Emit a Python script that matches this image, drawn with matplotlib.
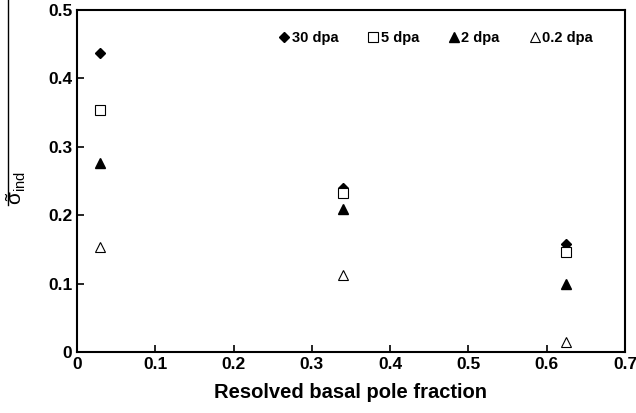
import matplotlib
matplotlib.use("Agg")
import matplotlib.pyplot as plt
from matplotlib.lines import Line2D

plt.rcParams['font.family'] = ['Liberation Sans', 'DejaVu Sans']
plt.rcParams['mathtext.fontset'] = 'custom'
plt.rcParams['mathtext.rm'] = 'Liberation Sans'
plt.rcParams['mathtext.it'] = 'Liberation Sans'

# data
fraction = [0.03, 0.34, 0.625]
dpa30 = [0.437, 0.240, 0.158]
dpa5 = [0.354, 0.232, 0.146]
dpa2 = [0.277, 0.209, 0.099]
dpa02 = [0.154, 0.112, 0.015]
labels = ["30 dpa", "5 dpa", "2 dpa", "0.2 dpa"]

fig = plt.figure(figsize=(6.36, 4.13), dpi=100)
ax = fig.add_axes([77/636, 1-352/413, 548/636, 342/413])

ax.plot(fraction, dpa30, ls='none', marker='D', ms=5, color='black', label=labels[0])
ax.plot(fraction, dpa5, ls='none', marker='s', ms=6.5, mfc='white', mec='black', mew=0.8, label=labels[1])
ax.plot(fraction, dpa2, ls='none', marker='^', ms=7, color='black', label=labels[2])
ax.plot(fraction, dpa02, ls='none', marker='^', ms=7, mfc='white', mec='black', mew=0.8, label=labels[3])

ax.set_xlim(0, 0.7)
ax.set_ylim(0, 0.5)
ax.set_xticks([0, 0.1, 0.2, 0.3, 0.4, 0.5, 0.6, 0.7])
ax.set_xticklabels(["0", "0.1", "0.2", "0.3", "0.4", "0.5", "0.6", "0.7"])
ax.set_yticks([0, 0.1, 0.2, 0.3, 0.4, 0.5])
ax.set_yticklabels(["0", "0.1", "0.2", "0.3", "0.4", "0.5"])
ax.tick_params(direction='in', length=5, width=1.2, labelsize=12.5)
for t in ax.get_xticklabels() + ax.get_yticklabels():
    t.set_fontweight('bold')
for s in ax.spines.values():
    s.set_linewidth(1.5)

ax.set_xlabel("Resolved basal pole fraction", fontsize=14.5, fontweight='bold', labelpad=8)
ax.set_ylabel(r'$\tilde{\sigma}_{\mathrm{ind}}$', fontsize=15, labelpad=10)
ax.yaxis.set_label_coords(-0.09, 0.48)

leg = ax.legend(ncol=4, loc='center right', bbox_to_anchor=(0.965, 0.918), frameon=False,
                handletextpad=0.1, columnspacing=2.0, handlelength=0.8, markerscale=1.0,
                prop={'weight': 'bold', 'size': 10.5})

fig.add_artist(Line2D([8/636, 8/636], [1.0, 1-205/413], color='black', lw=1))

fig.savefig("out.png", dpi=100)
